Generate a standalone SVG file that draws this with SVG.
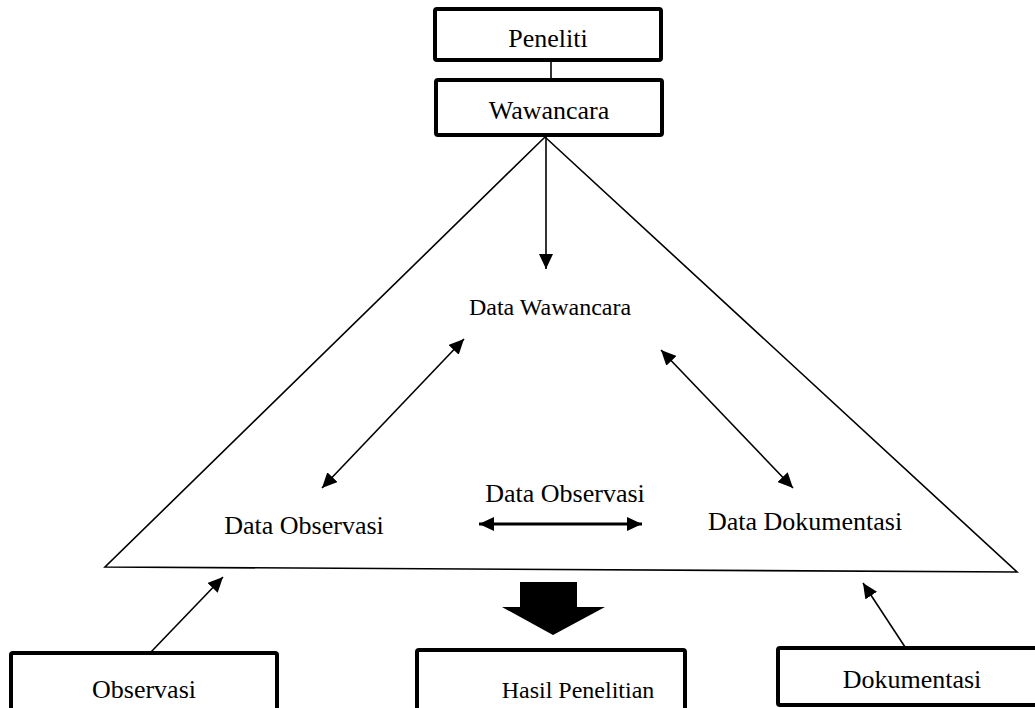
<svg xmlns="http://www.w3.org/2000/svg" width="1035" height="708" viewBox="0 0 1035 708">
<style>
  .box { fill: #fff; stroke: #000; stroke-width: 4; }
  .t { font-family: "Liberation Serif", "Times New Roman", serif; fill: #000; text-anchor: middle; }
  .ln { stroke: #000; stroke-width: 1.6; fill: none; }
</style>
<defs>
  <marker id="ah" markerUnits="userSpaceOnUse" markerWidth="16" markerHeight="14" refX="15" refY="7" orient="auto-start-reverse">
    <path d="M0,0 L15,7 L0,14 Z" fill="#000"/>
  </marker>
</defs>
<rect width="1035" height="708" fill="#fff"/>

<g id="connectors">
  <line class="ln" x1="551" y1="60" x2="551" y2="80"/>
  <line class="ln" x1="546" y1="137" x2="546" y2="269" marker-end="url(#ah)"/>
  <line class="ln" x1="322" y1="488" x2="464" y2="339" marker-start="url(#ah)" marker-end="url(#ah)"/>
  <line class="ln" x1="661" y1="350" x2="793" y2="488" marker-start="url(#ah)" marker-end="url(#ah)"/>
  <line class="ln" style="stroke-width:3" x1="479" y1="524" x2="642" y2="524" marker-start="url(#ah)" marker-end="url(#ah)"/>
  <line class="ln" x1="150" y1="653" x2="223" y2="577" marker-end="url(#ah)"/>
  <line class="ln" x1="905" y1="647" x2="863" y2="583" marker-end="url(#ah)"/>
  <path d="M520,582 L577,582 L577,607 L605,607 L553,635 L502,607 L520,607 Z" fill="#000"/>
</g>

<g id="triangle">
  <path class="ln" d="M545,137 L105,567 L1017,572 Z"/>
</g>

<g id="peneliti">
  <rect class="box" x="435" y="9" width="226" height="51" rx="2"/>
  <text class="t" x="548" y="47" font-size="26">Peneliti</text>
</g>
<g id="wawancara">
  <rect class="box" x="436" y="80" width="226" height="55" rx="2"/>
  <text class="t" x="549" y="119" font-size="26">Wawancara</text>
</g>
<g id="data-wawancara">
  <text class="t" x="550" y="315" font-size="24">Data Wawancara</text>
</g>
<g id="data-observasi-left">
  <text class="t" x="304" y="534" font-size="26">Data Observasi</text>
</g>
<g id="data-observasi-mid">
  <text class="t" x="565" y="502" font-size="26">Data Observasi</text>
</g>
<g id="data-dokumentasi">
  <text class="t" x="805" y="530" font-size="26">Data Dokumentasi</text>
</g>
<g id="observasi">
  <rect class="box" x="11" y="653" width="266" height="70" rx="2"/>
  <text class="t" x="144" y="698" font-size="26">Observasi</text>
</g>
<g id="hasil-penelitian">
  <rect class="box" x="417" y="650" width="268" height="70" rx="2"/>
  <text class="t" x="578" y="698" font-size="24">Hasil Penelitian</text>
</g>
<g id="dokumentasi">
  <rect class="box" x="778" y="648" width="270" height="57" rx="2"/>
  <text class="t" x="912" y="688" font-size="26">Dokumentasi</text>
</g>
</svg>
